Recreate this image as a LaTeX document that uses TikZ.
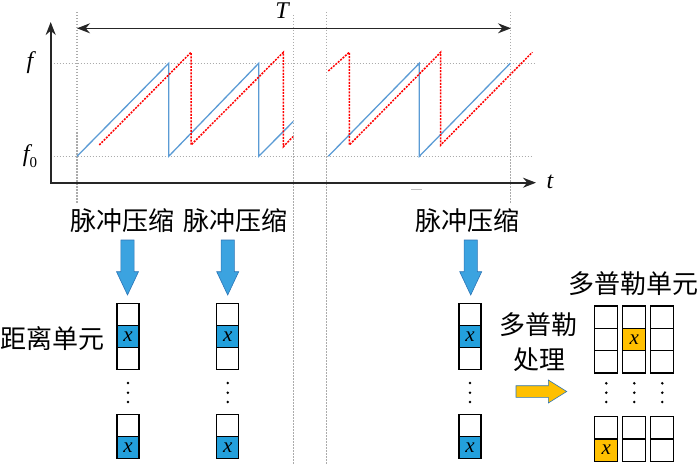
\documentclass[tikz,border=0pt]{standalone}
\usepackage{fontspec}
\setmainfont{Liberation Serif}
\newfontfamily\cjk{Noto Sans CJK SC}
\usetikzlibrary{arrows.meta}
\definecolor{sawblue}{HTML}{5B9BD5}
\definecolor{cellblue}{HTML}{23A0DC}
\definecolor{arrblue}{HTML}{3BA3E0}
\definecolor{arredge}{HTML}{2E75B6}
\definecolor{cellorange}{HTML}{FFC000}
\definecolor{guidegray}{HTML}{ABABAB}
\begin{document}
\begin{tikzpicture}[x=1pt,y=-1pt,
  guide/.style={guidegray, line width=1.3pt, dash pattern=on 1.5pt off 1.5pt},
  axisline/.style={line width=1.7pt, black!85, {Stealth[length=13pt,width=10pt]}-{Stealth[length=13pt,width=10pt]}},
  tx/.style={font=\cjk\fontsize{26}{28}\selectfont, inner sep=0pt},
  lab/.style={font=\fontsize{24}{28}\selectfont\itshape, inner sep=0pt},
  cell/.style={draw, line width=1.2pt, minimum width=22pt, minimum height=22pt, inner sep=0pt, font=\fontsize{21}{22}\selectfont\itshape},
  bcell/.style={cell, fill=cellblue},
  gcell/.style={cell, minimum width=23pt, minimum height=22.3pt},
  ocell/.style={gcell, fill=cellorange},
  dotnode/.style={circle, fill=black, inner sep=0pt, minimum size=2.8pt},
  bluesaw/.style={sawblue, line width=1.3pt},
  redsaw/.style={red, line width=1.5pt, dash pattern=on 2pt off 1.2pt},
  bluearr/.style={fill=arrblue, draw=arredge, line width=0.6pt},
  orangearr/.style={fill=cellorange, draw=arredge, line width=0.6pt}
]
\useasboundingbox (0,0) rectangle (700,465);

% guides
\draw[guide] (50.7,63.3) -- (536.7,63.3);
\draw[guide] (50.7,156.3) -- (531.7,156.3);
\draw[guide] (77,12) -- (77,203);
\draw[guide] (293.5,15) -- (293.5,465);
\draw[guide] (326.7,12) -- (326.7,465);
\draw[guide] (510.5,12) -- (510.5,203);

% axes
\coordinate (O) at (50.7,182.7);
\coordinate (ytop) at (50.7,22);
\coordinate (xend) at (536,182.7);
\draw[axisline] (ytop) -- (O) -- (xend);
\node[lab] (flab) at (30,63) {f};
\node[lab] (f0lab) at (30,156) {f\raisebox{-6pt}{\upshape\fontsize{15}{15}\selectfont 0}};
\node[lab] (tlab) at (550,182) {t};
\node[lab] (Tlab) at (282,11) {T};

% T span
\coordinate (Tl) at (77,28.3);
\coordinate (Tr) at (511,28.3);
\draw[line width=1.3pt, black!85, {Stealth[length=13pt,width=10pt]}-{Stealth[length=13pt,width=10pt]}] (Tl) -- (Tr);

% sawtooth signals
\draw[bluesaw] (77,156.3) -- (168.7,63.3) -- (168.7,156.3) -- (258.7,63.3) -- (258.7,156.3) -- (293.3,121.5);
\draw[bluesaw] (328.3,156.3) -- (419.3,63.3) -- (419.3,156.3) -- (510.3,63.3);
\draw[redsaw] (99.3,145) -- (191,52.3) -- (191,145) -- (283.3,52.3) -- (283.3,146.7) -- (293,136.7);
\draw[redsaw] (328.3,71) -- (349.3,52.3) -- (349.3,145) -- (440.7,52.3) -- (440.7,145) -- (532.3,52.3);
\draw[gray!50, line width=1pt] (411,189.3) -- (422,189.3);

% labels
\node[tx] (pc1) at (122,220.7) {脉冲压缩};
\node[tx] (pc2) at (235,220.7) {脉冲压缩};
\node[tx] (pc3) at (467.5,220.7) {脉冲压缩};
\node[tx] (rng) at (52.5,338.3) {距离单元};
\node[tx] (dop) at (633,283.3) {多普勒单元};
\node[tx] (dp1) at (538,325) {多普勒};
\node[tx] (dp2) at (539,360) {处理};

% blue block arrows
\foreach \n/\x in {1/127.5,2/227.7,3/470.7}{
  \coordinate (ba\n) at (\x,240);
  \filldraw[bluearr, shift={(ba\n)}] (-6.6,0) -- (6.6,0) -- (6.6,31.7) -- (11,31.7) -- (0,55) -- (-11,31.7) -- (-6.6,31.7) -- cycle;
}

% range cell columns
\foreach \c/\x in {1/128,2/227.7,3/470}{
  \node[cell]  (c\c r1) at (\x,314.5) {};
  \node[bcell] (c\c r2) at (\x,336.6) {x};
  \node[cell]  (c\c r3) at (\x,358.7) {};
  \node[dotnode] (c\c d1) at (\x,383) {};
  \node[dotnode] (c\c d2) at (\x,392.7) {};
  \node[dotnode] (c\c d3) at (\x,402) {};
  \node[cell]  (c\c r4) at (\x,425.3) {};
  \node[bcell] (c\c r5) at (\x,447.4) {x};
}

% orange arrow
\coordinate (oa) at (516,391.5);
\filldraw[orangearr, shift={(oa)}] (0,-5.8) -- (32.3,-5.8) -- (32.3,-11.5) -- (50.7,0) -- (32.3,11.5) -- (32.3,5.8) -- (0,5.8) -- cycle;

% doppler grid
\foreach \c/\x in {1/606.3,2/634.3,3/662.3}{
  \node[gcell] (g\c r1) at (\x,317.2) {};
  \node[gcell] (g\c r2) at (\x,339.5) {};
  \node[gcell] (g\c r3) at (\x,361.8) {};
  \node[dotnode] (g\c d1) at (\x,383.3) {};
  \node[dotnode] (g\c d2) at (\x,392.7) {};
  \node[dotnode] (g\c d3) at (\x,402) {};
  \node[gcell] (g\c r4) at (\x,427.8) {};
  \node[gcell] (g\c r5) at (\x,450.1) {};
}
\node[ocell] (g2r2x) at (634.3,339.5) {x};
\node[ocell] (g1r5x) at (606.3,450.1) {x};
\end{tikzpicture}
\end{document}
